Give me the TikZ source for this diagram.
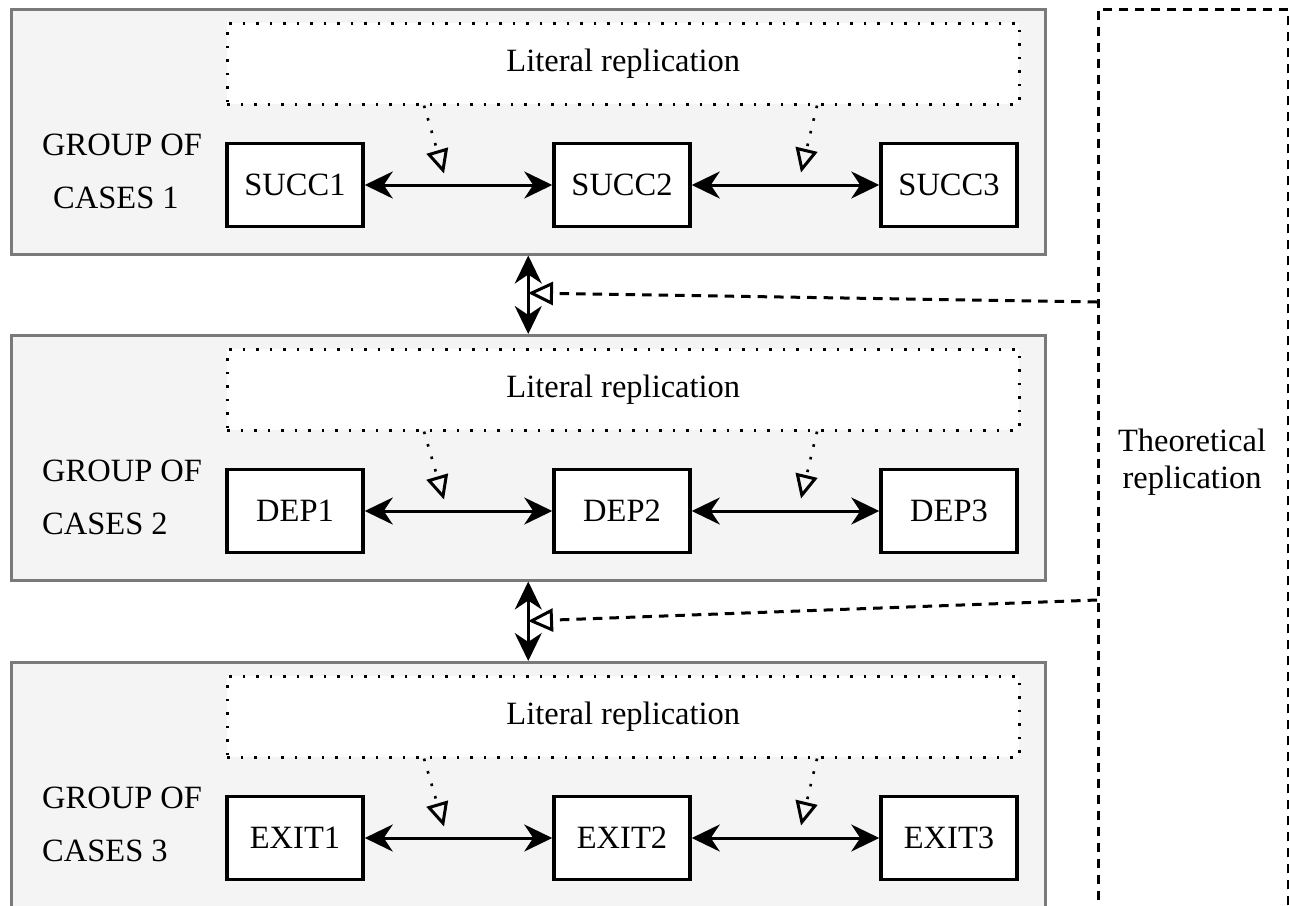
\documentclass[tikz,border=0pt]{standalone}
\usepackage{fontspec}
\setmainfont{Liberation Serif}
\usetikzlibrary{arrows.meta,calc}
\definecolor{grpfill}{HTML}{F4F4F4}
\definecolor{grpline}{HTML}{7A7A7A}
\begin{document}
\begin{tikzpicture}[x=1pt,y=-1pt,
  lbl/.style={font=\fontsize{32.5}{37}\selectfont, inner sep=0pt},
  groupbox/.style={draw=grpline, fill=grpfill, line width=2.5pt,
    minimum width=1034pt, minimum height=245pt, inner sep=0pt, anchor=north west},
  litbox/.style={draw=black, fill=white, line width=2.6pt, dash pattern=on 2.6pt off 10.9pt,
    minimum width=792pt, minimum height=81pt, inner sep=0pt, anchor=north west, lbl},
  casebox/.style={draw=black, fill=white, line width=3.5pt,
    minimum width=136pt, minimum height=83pt, inner sep=0pt, lbl},
  theobox/.style={draw=black, line width=2.5pt, dash pattern=on 9pt off 7pt,
    minimum width=190pt, minimum height=898pt, inner sep=0pt, anchor=north west},
  link/.style={line width=3pt,
    {Stealth[length=28pt,width=27pt,inset=9pt]}-{Stealth[length=28pt,width=27pt,inset=9pt]}},
  litlink/.style={line width=2.6pt, dash pattern=on 2.6pt off 10.4pt,
    -{Triangle[open,length=24pt,width=22pt,line width=3pt]}},
  theolink/.style={line width=3pt, dash pattern=on 9.5pt off 7pt,
    -{Triangle[open,length=25pt,width=23pt,line width=3pt]}}
]
\useasboundingbox (0,0) rectangle (1289,905);

% theoretical replication frame
\node[theobox] (theo) at (1097,8) {};
\node[lbl, align=center] (theotxt) at (1192,462) {Theoretical\\replication};

% three groups of cases
\foreach \i/\t/\ind/\ca/\cb/\cc in {1/8/11/SUCC1/SUCC2/SUCC3,
                                   2/334/0/DEP1/DEP2/DEP3,
                                   3/661/0/EXIT1/EXIT2/EXIT3} {
  \node[groupbox] (g\i) at (10,\t) {};
  \node[litbox] (lit\i) at (226,\t+14) {Literal replication};
  \node[lbl, anchor=base west] (gA\i) at (42,\t+147) {GROUP OF};
  \node[lbl, anchor=base west] (gB\i) at (42+\ind,\t+200) {CASES \i};
  \node[casebox] (n\i-1) at (295,\t+177) {\ca};
  \node[casebox] (n\i-2) at (622,\t+177) {\cb};
  \node[casebox] (n\i-3) at (949,\t+177) {\cc};
  \draw[link] (n\i-1.east) -- (n\i-2.west);
  \draw[link] (n\i-2.east) -- (n\i-3.west);
  \coordinate (la\i) at ($(lit\i.south west)+(198,0)$);
  \coordinate (ta\i) at ($(lit\i.south west)+(218,68)$);
  \coordinate (lb\i) at ($(lit\i.south west)+(591,0)$);
  \coordinate (tb\i) at ($(lit\i.south west)+(575,67)$);
  \draw[litlink] (la\i) -- (ta\i);
  \draw[litlink] (lb\i) -- (tb\i);
}

% links between the groups
\draw[link] (g1.south) -- (g2.north);
\draw[link] (g2.south) -- (g3.north);

% theoretical replication connectors
\coordinate (s1) at (1097,302);
\coordinate (t1) at (528,293);
\coordinate (s2) at (1097,600);
\coordinate (t2) at (528,621);
\draw[theolink] (s1) -- (t1);
\draw[theolink] (s2) -- (t2);
\end{tikzpicture}
\end{document}
